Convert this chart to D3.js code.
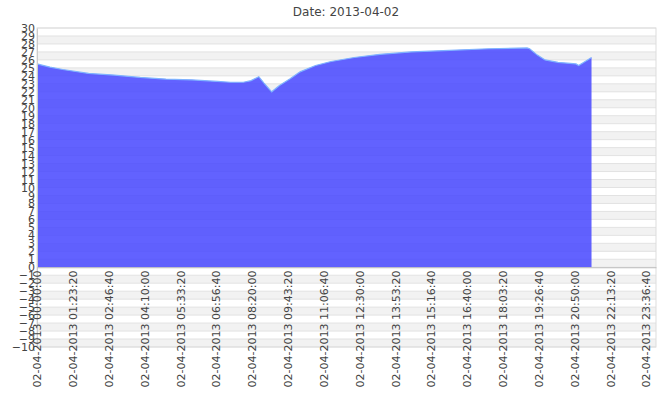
<!DOCTYPE html><html><head><meta charset="utf-8"><script src="https://cdn.jsdelivr.net/npm/d3@7"></script>
<style>body{margin:0;background:#fff}text{font-family:"DejaVu Sans",sans-serif;fill:#444}</style></head><body><svg width="670" height="402"></svg><script>
const hours=[0,0.5,1,2,3,4,5,6,7,7.5,8,8.3,8.6,8.8,9.1,9.4,9.8,10.2,10.8,11.4,12.3,13.3,14.5,16,17.5,19,19.1,19.4,19.7,20.2,20.9,21.0,21.3,21.5];
const temps=[25.5,25.1,24.8,24.3,24.1,23.8,23.6,23.5,23.3,23.2,23.2,23.4,23.9,23.1,22,22.8,23.6,24.5,25.3,25.8,26.3,26.7,27.0,27.2,27.4,27.5,27.4,26.6,26.0,25.7,25.5,25.3,25.9,26.3];
const yTicks=d3.range(-10,31);
const xTicks=d3.range(0,86401,5000);
const svg=d3.select("svg");
const L=37,R=656,T=28,B=347;
const x=d3.scaleLinear().domain([0,86400]).range([L,R]);
const y=d3.scaleLinear().domain([-10,30]).range([B,T]);
svg.append("text").attr("x",346).attr("y",16).attr("text-anchor","middle").attr("font-size",12).text("Date: 2013-04-02");
for(let v=-10;v<30;v++){svg.append("rect").attr("x",L).attr("width",R-L).attr("y",y(v+1)).attr("height",y(v)-y(v+1)).attr("fill",(v%2===0)?"#f2f2f2":"#fff");}
yTicks.forEach(v=>svg.append("line").attr("x1",L).attr("x2",R).attr("y1",y(v)).attr("y2",y(v)).attr("stroke","#e2e2e2"));
svg.append("rect").attr("x",L).attr("y",T).attr("width",R-L).attr("height",B-T).attr("fill","none").attr("stroke","#ddd");
const pts=hours.map((h,i)=>[h*3600,temps[i]]);
svg.append("path").datum(pts).attr("d",d3.area().x(d=>x(d[0])).y0(y(0)).y1(d=>y(d[1]))).attr("fill","rgba(70,70,255,0.85)");
svg.append("path").datum(pts).attr("d",d3.line().x(d=>x(d[0])).y(d=>y(d[1]))).attr("fill","none").attr("stroke","#7fb3ff").attr("stroke-width",1.2);
svg.append("g").attr("transform",`translate(${L},0)`).call(d3.axisLeft(y).tickValues(yTicks).tickSize(0).tickPadding(2)).call(g=>{g.select(".domain").attr("stroke","#ccc");g.selectAll("text").attr("font-size",11).attr("fill","#555");});
const fmt=d3.utcFormat("%d-%m-%Y %H:%M:%S");const base=Date.UTC(2013,3,2);
const xa=svg.append("g").attr("transform",`translate(0,${y(0)})`).call(d3.axisBottom(x).tickValues(xTicks).tickSize(0).tickFormat(d=>fmt(new Date(base+d*1000))));
xa.select(".domain").attr("stroke","#bbb");
xa.selectAll("text").attr("font-size",11).attr("fill","#555").attr("text-anchor","end").attr("transform","rotate(-90)").attr("dx","-0.3em").attr("dy","0.35em").attr("x",0).attr("y",0);
</script></body></html>
